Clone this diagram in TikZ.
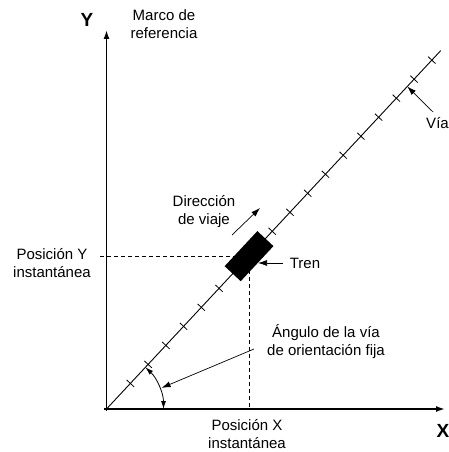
\documentclass[tikz,border=0pt]{standalone}
\usepackage{fontspec}
\setmainfont{Liberation Sans}
\usetikzlibrary{arrows.meta,calc}
\begin{document}
\begin{tikzpicture}[x=1pt,y=-1pt,
  lbl/.style={font=\fontsize{15}{18}\selectfont, align=center, inner sep=0},
  axlbl/.style={font=\fontsize{19}{19}\selectfont\bfseries, inner sep=0},
  axisline/.style={line width=1.6pt,-{Latex[length=9pt,width=6pt]}},
  trackline/.style={line width=0.9pt},
  tickline/.style={line width=0.8pt},
  pointer/.style={line width=0.7pt,-{Latex[length=9pt,width=6pt]}},
  guide/.style={line width=0.8pt,dash pattern=on 4pt off 3pt},
  trainbox/.style={fill=black,draw=none,rectangle,minimum width=48pt,minimum height=22pt,inner sep=0,rotate=47}
]
\useasboundingbox (0,0) rectangle (449,452);
% axes
\coordinate (O) at (106.5,409);
\coordinate (Ytip) at (106.5,30);
\coordinate (Xtip) at (445,409);
\coordinate (Ostart) at (104,409);
\draw[axisline] (106.5,411) -- (Ytip);
\draw[axisline] (Ostart) -- (Xtip);
% track
\coordinate (Tend) at ($(O)+(-47:490)$);
\draw[trackline] (O) -- (Tend);
\foreach \d in {35,61,87,113,139,165,243,269,295,321,347,373,399,425,451,477}{
  \draw[tickline] ($(O)+(-47:\d)$) ++(43:5) -- ++(-137:10);
}
% train position guides
\coordinate (TC) at ($(O)+(-47:209)$);
\coordinate (Yg) at (100,0 |- TC);
\coordinate (Xg) at (TC |- O);
\draw[guide] (Yg) -- (TC);
\draw[guide] (TC) -- (Xg);
\node[trainbox] (train) at (TC) {};
% angle arc
\draw[line width=0.8pt,{Latex[length=8pt,width=5pt]}-{Latex[length=8pt,width=5pt]}] ($(O)+(0:57)$) arc[start angle=0,end angle=-47,radius=57];
\coordinate (arcpt) at ($(O)+(-21:59)$);
% labels
\node[axlbl] (ylab) at (87,20) {Y};
\node[axlbl] (xlab) at (443,431) {X};
\node[lbl] (marco) at (164,24) {Marco de\\referencia};
\node[lbl] (via) at (437.5,123) {Vía};
\node[lbl] (dir) at (204,212) {Dirección\\de viaje};
\node[lbl] (tren) at (305,263) {Tren};
\node[lbl] (posy) at (52,263) {Posición Y\\instantánea};
\node[lbl] (posx) at (247,434) {Posición X\\instantánea};
\node[lbl] (ang) at (326,342) {Ángulo de la vía\\de orientación fija};
% pointers
\coordinate (viaS) at (433,112);
\coordinate (viaT) at ($(O)+(-47:441)$);
\draw[pointer] (viaS) -- (viaT);
\coordinate (trenS) at (283,263);
\coordinate (trenT) at (258,263);
\draw[pointer] (trenS) -- (trenT);
\coordinate (angS) at (254,349);
\draw[pointer] (angS) -- (arcpt);
\coordinate (dirS) at (232,235);
\coordinate (dirT) at (260,208);
\draw[pointer] (dirS) -- (dirT);
\end{tikzpicture}
\end{document}
